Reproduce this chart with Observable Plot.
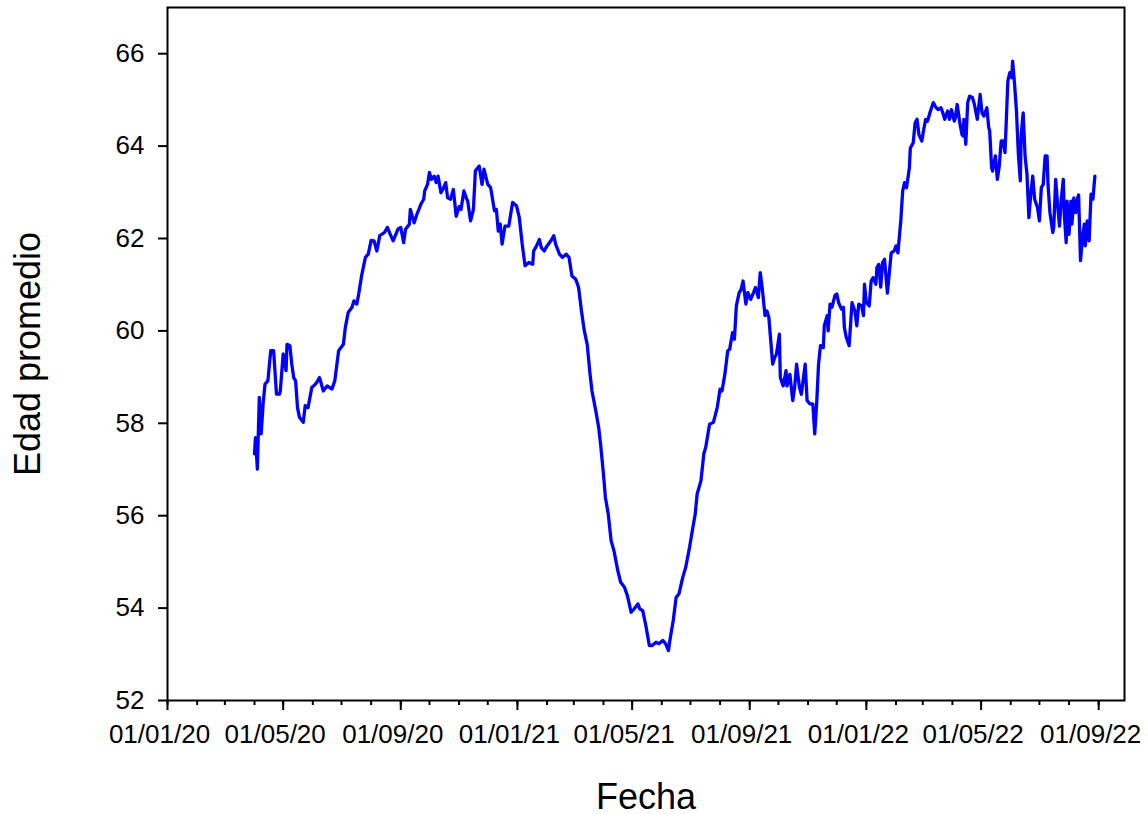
<!DOCTYPE html>
<html>
<head>
<meta charset="utf-8">
<script src="https://cdn.jsdelivr.net/npm/d3@7"></script>
<script src="https://cdn.jsdelivr.net/npm/@observablehq/plot@0.6"></script>
<style>
  body { margin: 0; background: #fff; }
</style>
</head>
<body>
<div id="chart"></div>
<script>
// Edad promedio por fecha
const fechas = [
  "2020-04-01","2020-04-02","2020-04-04","2020-04-06","2020-04-08","2020-04-10","2020-04-12","2020-04-15","2020-04-16","2020-04-18",
  "2020-04-21","2020-04-24","2020-04-27","2020-04-28","2020-05-01","2020-05-04","2020-05-05","2020-05-08","2020-05-10","2020-05-12",
  "2020-05-14","2020-05-16","2020-05-18","2020-05-22","2020-05-24","2020-05-27","2020-05-31","2020-06-02","2020-06-05","2020-06-08",
  "2020-06-12","2020-06-16","2020-06-21","2020-06-24","2020-06-28","2020-07-03","2020-07-05","2020-07-08","2020-07-12","2020-07-14",
  "2020-07-17","2020-07-19","2020-07-22","2020-07-26","2020-07-29","2020-08-01","2020-08-04","2020-08-07","2020-08-10","2020-08-15",
  "2020-08-18","2020-08-21","2020-08-24","2020-08-29","2020-09-01","2020-09-04","2020-09-06","2020-09-10","2020-09-11","2020-09-15",
  "2020-09-18","2020-09-22","2020-09-25","2020-09-26","2020-09-29","2020-10-01","2020-10-03","2020-10-06","2020-10-08","2020-10-10",
  "2020-10-13","2020-10-15","2020-10-18","2020-10-20","2020-10-23","2020-10-26","2020-10-29","2020-11-01","2020-11-03","2020-11-06",
  "2020-11-09","2020-11-10","2020-11-13","2020-11-16","2020-11-18","2020-11-22","2020-11-25","2020-11-27","2020-12-01","2020-12-04",
  "2020-12-08","2020-12-10","2020-12-12","2020-12-14","2020-12-16","2020-12-19","2020-12-23","2020-12-25","2020-12-27","2020-12-31",
  "2021-01-03","2021-01-06","2021-01-09","2021-01-13","2021-01-17","2021-01-18","2021-01-21","2021-01-24","2021-01-26","2021-01-29",
  "2021-02-01","2021-02-05","2021-02-08","2021-02-10","2021-02-14","2021-02-17","2021-02-21","2021-02-24","2021-02-27","2021-03-03",
  "2021-03-06","2021-03-09","2021-03-12","2021-03-15","2021-03-18","2021-03-20","2021-03-24","2021-03-27","2021-03-29","2021-04-01",
  "2021-04-03","2021-04-06","2021-04-09","2021-04-12","2021-04-16","2021-04-19","2021-04-23","2021-04-26","2021-04-30","2021-05-03",
  "2021-05-07","2021-05-09","2021-05-12","2021-05-15","2021-05-19","2021-05-22","2021-05-26","2021-05-29","2021-06-02","2021-06-05",
  "2021-06-08","2021-06-10","2021-06-13","2021-06-16","2021-06-19","2021-06-23","2021-06-26","2021-06-30","2021-07-03","2021-07-06",
  "2021-07-08","2021-07-12","2021-07-15","2021-07-17","2021-07-21","2021-07-25","2021-07-29","2021-08-01","2021-08-03","2021-08-06",
  "2021-08-09","2021-08-11","2021-08-14","2021-08-16","2021-08-18","2021-08-21","2021-08-23","2021-08-25","2021-08-28","2021-08-30",
  "2021-09-02","2021-09-05","2021-09-07","2021-09-10","2021-09-12","2021-09-14","2021-09-17","2021-09-19","2021-09-21","2021-09-25",
  "2021-09-27","2021-09-29","2021-10-02","2021-10-03","2021-10-06","2021-10-09","2021-10-10","2021-10-13","2021-10-16","2021-10-18",
  "2021-10-20","2021-10-23","2021-10-25","2021-10-29","2021-10-31","2021-11-03","2021-11-06","2021-11-08","2021-11-10","2021-11-12",
  "2021-11-14","2021-11-17","2021-11-18","2021-11-21","2021-11-22","2021-11-24","2021-11-26","2021-11-29","2021-12-01","2021-12-03",
  "2021-12-06","2021-12-08","2021-12-09","2021-12-11","2021-12-14","2021-12-17","2021-12-20","2021-12-22","2021-12-24","2021-12-27",
  "2021-12-29","2021-12-30","2022-01-01","2022-01-04","2022-01-06","2022-01-08","2022-01-11","2022-01-12","2022-01-14","2022-01-16",
  "2022-01-18","2022-01-20","2022-01-23","2022-01-25","2022-01-27","2022-01-30","2022-02-01","2022-02-03","2022-02-06","2022-02-08",
  "2022-02-10","2022-02-12","2022-02-15","2022-02-16","2022-02-19","2022-02-21","2022-02-23","2022-02-25","2022-02-28","2022-03-02",
  "2022-03-04","2022-03-06","2022-03-09","2022-03-12","2022-03-15","2022-03-17","2022-03-20","2022-03-22","2022-03-24","2022-03-27",
  "2022-03-29","2022-03-31","2022-04-03","2022-04-04","2022-04-06","2022-04-09","2022-04-11","2022-04-12","2022-04-13","2022-04-15",
  "2022-04-17","2022-04-19","2022-04-22","2022-04-24","2022-04-27","2022-04-30","2022-05-02","2022-05-04","2022-05-07","2022-05-09",
  "2022-05-10","2022-05-12","2022-05-13","2022-05-16","2022-05-18","2022-05-20","2022-05-22","2022-05-24","2022-05-26","2022-05-27",
  "2022-05-29","2022-05-31","2022-06-02","2022-06-03","2022-06-05","2022-06-07","2022-06-09","2022-06-11","2022-06-12","2022-06-14",
  "2022-06-16","2022-06-18","2022-06-20","2022-06-22","2022-06-24","2022-06-26","2022-06-29","2022-07-01","2022-07-03","2022-07-05",
  "2022-07-07","2022-07-09","2022-07-10","2022-07-12","2022-07-15","2022-07-16","2022-07-18","2022-07-20","2022-07-22","2022-07-24",
  "2022-07-26","2022-07-27","2022-07-29","2022-07-30","2022-08-01","2022-08-03","2022-08-04","2022-08-06","2022-08-08","2022-08-10",
  "2022-08-11","2022-08-13","2022-08-15","2022-08-17","2022-08-18","2022-08-20","2022-08-22","2022-08-24","2022-08-26","2022-08-28"
];

const edades = [
  57.34,57.69,57.01,58.56,57.77,58.42,58.85,58.92,59.14,59.57,
  59.57,58.63,58.63,58.70,59.50,59.14,59.71,59.68,59.28,58.99,
  58.92,58.34,58.13,58.02,58.38,58.34,58.78,58.81,58.88,58.99,
  58.70,58.81,58.74,58.92,59.57,59.71,60.07,60.40,60.51,60.65,
  60.58,60.80,61.19,61.59,61.66,61.96,61.95,61.73,62.06,62.13,
  62.24,62.09,61.95,62.20,62.24,61.91,62.20,62.31,62.63,62.34,
  62.53,62.74,62.85,63.03,63.17,63.43,63.28,63.35,63.21,63.35,
  62.99,63.06,63.21,62.88,62.85,63.06,62.48,62.69,62.63,63.03,
  62.85,62.81,62.38,62.63,63.46,63.57,63.17,63.50,63.17,63.10,
  62.60,62.63,62.16,62.31,61.88,62.27,62.27,62.53,62.78,62.71,
  62.45,61.88,61.41,61.48,61.44,61.73,61.84,61.98,61.80,61.73,
  61.84,61.95,62.06,61.88,61.66,61.59,61.66,61.59,61.19,61.12,
  60.94,60.43,60.00,59.71,59.06,58.70,58.27,57.91,57.55,56.90,
  56.40,56.04,55.46,55.24,54.81,54.56,54.45,54.27,53.91,53.98,
  54.09,53.98,53.95,53.66,53.19,53.19,53.26,53.23,53.30,53.23,
  53.08,53.37,53.73,54.23,54.31,54.67,54.88,55.31,55.68,56.04,
  56.47,56.76,57.34,57.48,57.98,58.02,58.34,58.74,58.70,59.06,
  59.57,59.60,59.96,59.82,60.54,60.83,60.90,61.08,60.58,60.83,
  60.68,60.83,60.94,60.72,61.26,60.94,60.33,60.43,60.29,59.28,
  59.42,59.50,59.93,58.99,58.81,59.14,58.81,59.06,58.49,58.78,
  59.28,58.78,58.63,59.28,58.49,58.42,58.42,57.77,58.42,59.28,
  59.68,59.64,60.11,60.33,60.00,60.58,60.51,60.76,60.80,60.61,
  60.47,60.51,60.07,59.86,59.68,60.61,60.43,60.11,60.58,60.54,
  60.33,61.01,60.61,60.54,61.08,61.15,61.01,61.37,61.44,60.95,
  61.48,61.55,60.82,61.26,61.69,61.73,61.84,61.69,62.38,63.03,
  63.21,63.10,63.53,63.96,64.07,64.50,64.58,64.25,64.11,64.36,
  64.58,64.54,64.76,64.94,64.83,64.79,64.83,64.72,64.58,64.76,
  64.58,64.79,64.54,64.61,64.90,64.47,64.25,64.22,64.58,64.04,
  64.94,65.08,65.05,64.90,64.58,65.12,64.72,64.65,64.83,64.40,
  64.33,63.53,63.46,63.79,63.28,63.57,64.11,64.11,63.86,64.36,
  65.41,65.59,65.48,65.84,65.34,64.76,63.82,63.25,64.25,64.72,
  63.79,63.39,62.45,62.96,63.35,62.85,62.67,62.38,63.10,63.17,
  63.79,63.79,63.17,62.56,62.13,62.24,63.28,62.74,62.27,62.88,
  63.28,62.53,61.91,62.81,62.09,62.81,62.31,62.88,62.56,62.88,
  62.94,61.52,62.02,62.31,61.84,62.38,61.95,62.96,62.85,63.35
];

// marcas de los ejes
const marcasX = ["2020-01-01","2020-05-01","2020-09-01","2021-01-01","2021-05-01","2021-09-01","2022-01-01","2022-05-01","2022-09-01"];
const marcasY = [52, 54, 56, 58, 60, 62, 64, 66];

const datos = fechas.map((f, i) => ({fecha: new Date(f), edad: edades[i]}));
const fechasX = marcasX.map((f) => new Date(f));
const mensual = d3.utcMonth.range(new Date("2020-01-01"), new Date("2022-09-02"));
const formato = d3.utcFormat("%d/%m/%y");

let chart = Plot.plot({
  width: 1148,
  height: 814,
  marginLeft: 167,
  marginRight: 24,
  marginTop: 7,
  marginBottom: 114,
  style: {
    fontFamily: "'Liberation Sans', Arial, sans-serif",
    fontSize: "26px",
    color: "black",
    background: "white",
  },
  x: {
    type: "utc",
    domain: [new Date("2020-01-01"), new Date("2022-09-28")],
  },
  y: {
    domain: [52, 67],
  },
  marks: [
    Plot.axisY(marcasY, {
      tickSize: 9,
      tickPadding: 14,
      strokeWidth: 2,
      fontSize: 26,
      label: null,
    }),
    Plot.axisX(mensual, {
      tickSize: 5,
      strokeWidth: 2,
      tickFormat: () => "",
      label: null,
    }),
    Plot.axisX(fechasX, {
      tickSize: 10,
      strokeWidth: 2,
      tickFormat: () => "",
      label: null,
    }),
    Plot.text(fechasX, {
      x: (d) => d,
      text: (d) => formato(d),
      frameAnchor: "bottom",
      lineAnchor: "top",
      dy: 24,
      dx: -8,
      fontSize: 26,
      fill: "black",
    }),
    Plot.line(datos, {
      x: "fecha",
      y: "edad",
      stroke: "#0000ff",
      strokeWidth: 3.3,
      strokeLinejoin: "round",
    }),
    Plot.frame({stroke: "black", strokeWidth: 2}),
    Plot.text(["Fecha"], {
      frameAnchor: "bottom",
      dy: 97,
      lineAnchor: "middle",
      fontSize: 36,
      fill: "black",
    }),
    Plot.text(["Edad promedio"], {
      frameAnchor: "left",
      textAnchor: "middle",
      lineAnchor: "middle",
      dx: -139,
      rotate: -90,
      fontSize: 36,
      fill: "black",
    }),
  ],
});

d3.select('#chart').append(() => chart);
</script>
</body>
</html>
